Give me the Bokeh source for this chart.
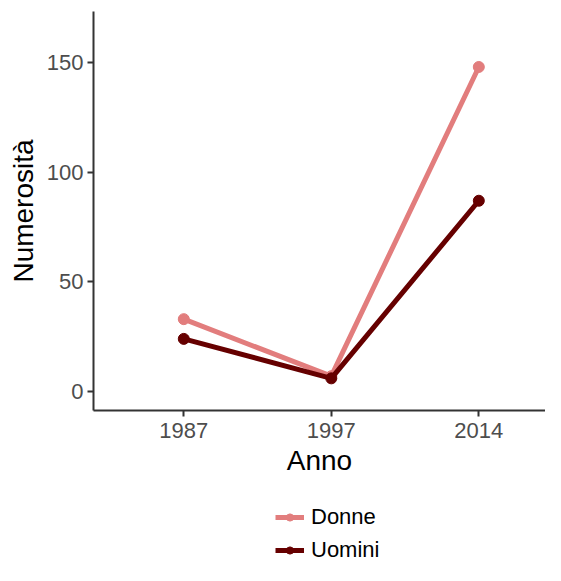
from bokeh.plotting import figure
from bokeh.models import Range1d, FixedTicker, Legend, LegendItem
from bokeh.layouts import column
from bokeh.embed import file_html
from bokeh.resources import INLINE

years = ["1987", "1997", "2014"]
donne = [33, 7, 148]
uomini = [24, 6, 87]
series_names = ["Donne", "Uomini"]
series_colors = ["#E27D7D", "#660000"]
y_ticks = [0, 50, 100, 150]

FONT = "Liberation Sans"
xpos = list(range(len(years)))
series = [donne, uomini]

# main plot
p = figure(width=545, height=490, output_backend="svg", toolbar_location=None,
           x_range=Range1d(-0.612, 2.452), y_range=Range1d(-8.66, 173.3),
           min_border_left=93, min_border_top=11, min_border_right=0,
           min_border_bottom=80)
p.outline_line_color = None
p.xgrid.visible = False
p.ygrid.visible = False
p.background_fill_color = "white"
p.border_fill_color = "white"

for vals, col in zip(series, series_colors):
    p.line(xpos, vals, line_color=col, line_width=5)
    p.scatter(xpos, vals, size=11, fill_color=col, line_color=col)

for ax in (p.xaxis[0], p.yaxis[0]):
    ax.axis_line_color = "#333333"
    ax.axis_line_width = 2
    ax.major_tick_line_color = "#333333"
    ax.major_tick_line_width = 2
    ax.major_tick_out = 6
    ax.major_tick_in = 0
    ax.minor_tick_line_color = None
    ax.major_label_text_font = FONT
    ax.major_label_text_font_size = "22px"
    ax.major_label_text_color = "#4D4D4D"
    ax.axis_label_text_font = FONT
    ax.axis_label_text_font_size = "28px"
    ax.axis_label_text_font_style = "normal"
    ax.axis_label_text_color = "black"

p.xaxis.ticker = FixedTicker(ticks=xpos)
p.xaxis.major_label_overrides = {i: y for i, y in zip(xpos, years)}
p.xaxis.axis_label = "Anno"
p.xaxis.major_label_standoff = 6
p.xaxis.axis_label_standoff = 4

p.yaxis.ticker = FixedTicker(ticks=y_ticks)
p.yaxis.axis_label = "Numerosità"
p.yaxis.major_label_standoff = 4
p.yaxis.axis_label_standoff = 5

# legend strip below the plot (its renderers lie outside its visible range)
lg = figure(width=545, height=75, output_backend="svg", toolbar_location=None,
            x_range=Range1d(-0.612, 2.452), y_range=Range1d(1000, 1001),
            x_axis_location=None, y_axis_location=None,
            min_border_left=0, min_border_right=0, min_border_top=0,
            min_border_bottom=0)
lg.outline_line_color = None
lg.xgrid.visible = False
lg.ygrid.visible = False
lg.background_fill_color = "white"
lg.border_fill_color = "white"

items = []
for vals, name, col in zip(series, series_names, series_colors):
    r1 = lg.line(xpos, vals, line_color=col, line_width=5)
    r2 = lg.scatter(xpos, vals, size=11, fill_color=col, line_color=col)
    items.append(LegendItem(label=name, renderers=[r1, r2]))

legend = Legend(items=items, location=(182, 2), orientation="vertical",
                label_text_font=FONT, label_text_font_size="22px",
                label_text_color="black", label_height=18,
                glyph_width=29, glyph_height=18, label_standoff=7,
                spacing=7, padding=0, margin=0,
                border_line_color=None, background_fill_alpha=0)
lg.add_layout(legend, "center")

layout = column(p, lg, spacing=0)
open("out.html", "w").write(file_html(layout, INLINE))
